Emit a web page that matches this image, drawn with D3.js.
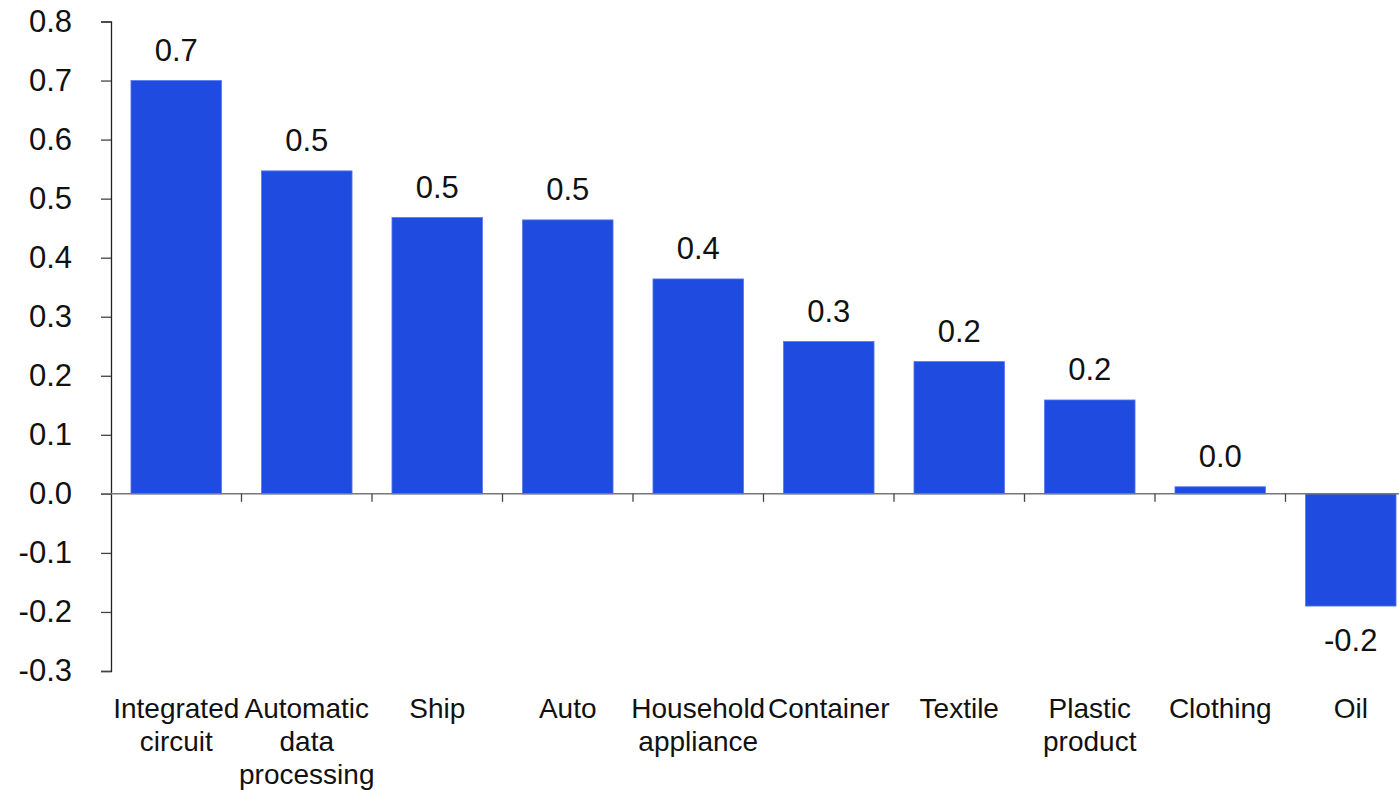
<!DOCTYPE html>
<html>
<head>
<meta charset="utf-8">
<script src="https://cdn.jsdelivr.net/npm/d3@7"></script>
<style>
  html, body { margin: 0; padding: 0; background: #fff; }
  svg { display: block; }
  text { font-family: "Liberation Sans", Arial, Helvetica, sans-serif; fill: #111; }
</style>
</head>
<body>
<svg id="chart" width="1399" height="790"></svg>
<script>
// Product categories (label lines) and their values
const categories = ["Integrated circuit", "Automatic data processing", "Ship", "Auto",
  "Household appliance", "Container", "Textile", "Plastic product", "Clothing", "Oil"];
const labelLines = [["Integrated", "circuit"], ["Automatic", "data", "processing"], ["Ship"], ["Auto"],
  ["Household", "appliance"], ["Container"], ["Textile"], ["Plastic", "product"], ["Clothing"], ["Oil"]];
const values = [0.70, 0.547, 0.468, 0.464, 0.364, 0.258, 0.224, 0.159, 0.012, -0.19];
const yTicks = [-0.3, -0.2, -0.1, 0.0, 0.1, 0.2, 0.3, 0.4, 0.5, 0.6, 0.7, 0.8];

const fmt = v => (Math.abs(v) < 0.05 ? 0 : v).toFixed(1);

const svg = d3.select("#chart");
const plotLeft = 111, plotRight = 1416, plotTop = 21.5, plotBottom = 671;

const x = d3.scaleBand().domain(categories).range([plotLeft, plotRight])
  .paddingInner(0.306).paddingOuter(0.153);
const y = d3.scaleLinear().domain([-0.3, 0.8]).range([plotBottom, plotTop]);

// Bars
svg.append("g").selectAll("rect").data(values).join("rect")
  .attr("x", (d, i) => x(categories[i]))
  .attr("width", x.bandwidth())
  .attr("y", d => y(Math.max(0, d)))
  .attr("height", d => Math.abs(y(d) - y(0)))
  .attr("fill", "#1f4be1")
  .attr("stroke", "#5878ea")
  .attr("stroke-width", 0.8);

// Y axis
const yAxis = svg.append("g").attr("transform", `translate(${plotLeft},0)`)
  .call(d3.axisLeft(y).tickValues(yTicks).tickFormat(d => d.toFixed(1)).tickSize(10).tickPadding(29));
yAxis.select(".domain").attr("stroke", "#222").attr("stroke-width", 1.3);
yAxis.selectAll(".tick line").attr("stroke", "#444").attr("stroke-width", 1.3);
yAxis.selectAll(".tick text").attr("font-size", 31).attr("fill", "#111")
  .attr("font-family", "'Liberation Sans', Arial, sans-serif");

// Zero baseline with category separator ticks
const zero = svg.append("g");
zero.append("line").attr("x1", plotLeft - 10).attr("x2", 1399)
  .attr("y1", y(0)).attr("y2", y(0)).attr("stroke", "#777").attr("stroke-width", 1.5);
const step = x.step();
zero.selectAll("line.sep").data(d3.range(1, categories.length)).join("line")
  .attr("class", "sep")
  .attr("x1", i => plotLeft + i * step).attr("x2", i => plotLeft + i * step)
  .attr("y1", y(0)).attr("y2", y(0) + 8)
  .attr("stroke", "#444").attr("stroke-width", 1.3);

// Value labels
svg.append("g").selectAll("text").data(values).join("text")
  .attr("x", (d, i) => x(categories[i]) + x.bandwidth() / 2)
  .attr("y", d => d >= 0 ? y(d) - 20 : y(d) + 45)
  .attr("text-anchor", "middle")
  .attr("font-size", 31)
  .text(d => fmt(d));

// Category labels
const cat = svg.append("g").selectAll("text").data(labelLines).join("text")
  .attr("x", (d, i) => x(categories[i]) + x.bandwidth() / 2)
  .attr("y", 718)
  .attr("text-anchor", "middle")
  .attr("font-size", 28);
cat.selectAll("tspan").data((d, i) => d.map(s => ({ s, i }))).join("tspan")
  .attr("x", d => x(categories[d.i]) + x.bandwidth() / 2)
  .attr("dy", (d, j) => j === 0 ? 0 : 33)
  .text(d => d.s);
</script>
</body>
</html>
